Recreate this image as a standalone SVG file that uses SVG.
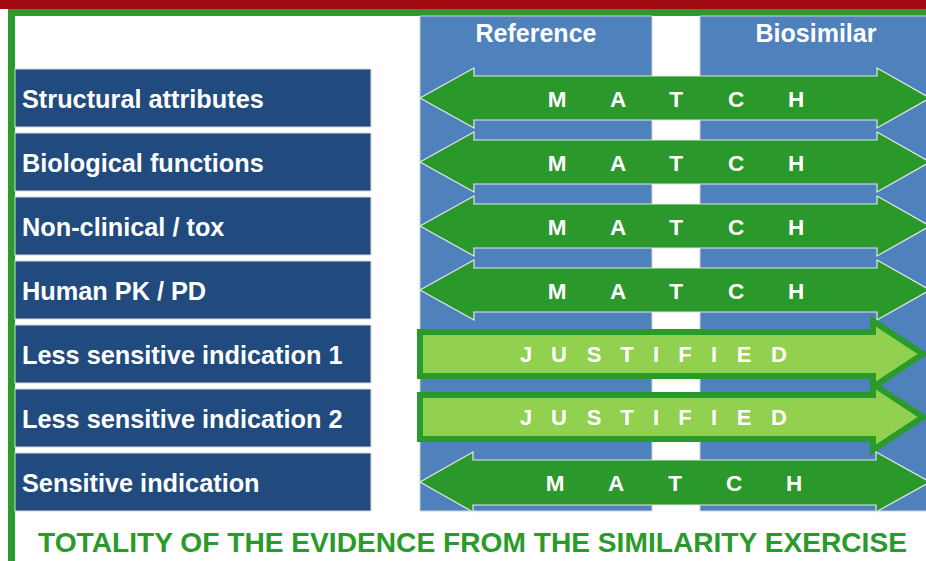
<svg xmlns="http://www.w3.org/2000/svg" width="926" height="561" viewBox="0 0 926 561">
<style>
text{font-family:"Liberation Sans",Arial,sans-serif;font-weight:bold;fill:#ffffff}
.col{fill:#4f81bd;stroke:#d0d0d0;stroke-width:1}
.lbl{fill:#214a7e;stroke:#d8d8d8;stroke-width:1}
.lt{font-size:25.3px}
.hd{font-size:25px}
.match{fill:#2a982a;stroke:#e6e6e6;stroke-width:1.2}
.just{fill:#92d050;stroke:#2a9a2a;stroke-width:6;stroke-miterlimit:10}
.ml{font-size:22.5px;text-anchor:middle}
.jl{font-size:22px;text-anchor:middle}
.foot{font-size:28px;fill:#2a9a2a}
</style>
<rect x="0" y="0" width="926" height="9" fill="#a00a10"/>
<g id="frame">
<rect x="8" y="9" width="918" height="7" fill="#2a9a2a"/>
<rect x="8" y="9" width="7" height="552" fill="#2a9a2a"/>
</g>
<g id="col-reference">
<rect class="col" x="420" y="16" width="232" height="495"/>
<text class="hd" x="536" y="42" text-anchor="middle">Reference</text>
</g>
<g id="col-biosimilar">
<rect class="col" x="700" y="16" width="240" height="495"/>
<text class="hd" x="816" y="42" text-anchor="middle">Biosimilar</text>
</g>
<g id="label-1"><rect class="lbl" x="15" y="69" width="356" height="58"/><text class="lt" x="22" y="107.5">Structural attributes</text></g>
<g id="label-2"><rect class="lbl" x="15" y="133" width="356" height="58"/><text class="lt" x="22" y="171.5">Biological functions</text></g>
<g id="label-3"><rect class="lbl" x="15" y="197" width="356" height="58"/><text class="lt" x="22" y="235.5">Non-clinical / tox</text></g>
<g id="label-4"><rect class="lbl" x="15" y="261" width="356" height="58"/><text class="lt" x="22" y="299.5">Human PK / PD</text></g>
<g id="label-5"><rect class="lbl" x="15" y="325" width="356" height="58"/><text class="lt" x="22" y="363.5">Less sensitive indication 1</text></g>
<g id="label-6"><rect class="lbl" x="15" y="389" width="356" height="58"/><text class="lt" x="22" y="427.5">Less sensitive indication 2</text></g>
<g id="label-7"><rect class="lbl" x="15" y="453" width="356" height="58"/><text class="lt" x="22" y="491.5">Sensitive indication</text></g>
<g id="connectors">
<g id="match-1"><path class="match" d="M420,98 L474,68 L474,76 L877,76 L877,68 L930,98 L877,128 L877,120 L474,120 L474,128 Z"/><text class="ml" x="557 618 676 736 796" y="107">MATCH</text></g>
<g id="match-2"><path class="match" d="M420,162 L474,132 L474,140 L877,140 L877,132 L930,162 L877,192 L877,184 L474,184 L474,192 Z"/><text class="ml" x="557 618 676 736 796" y="171">MATCH</text></g>
<g id="match-3"><path class="match" d="M420,226 L474,196 L474,204 L877,204 L877,196 L930,226 L877,256 L877,248 L474,248 L474,256 Z"/><text class="ml" x="557 618 676 736 796" y="235">MATCH</text></g>
<g id="match-4"><path class="match" d="M420,290 L474,260 L474,268 L877,268 L877,260 L930,290 L877,320 L877,312 L474,312 L474,320 Z"/><text class="ml" x="557 618 676 736 796" y="299">MATCH</text></g>
<g id="justified-1"><path class="just" d="M420,332 L873,332 L873,321 L923,354 L873,387 L873,376 L420,376 Z"/><text class="jl" x="526 559 594 627 656 685 714 744 779" y="362">JUSTIFIED</text></g>
<g id="justified-2"><path class="just" d="M420,395 L873,395 L873,384 L923,417 L873,450 L873,439 L420,439 Z"/><text class="jl" x="526 559 594 627 656 685 714 744 779" y="425">JUSTIFIED</text></g>
<g id="match-7"><path class="match" d="M420,482 L473,452 L473,460 L876,460 L876,452 L930,482 L876,512 L876,505 L473,505 L473,512 Z"/><text class="ml" x="555 616 675 734 794" y="491">MATCH</text></g>
</g>
<text class="foot" x="38" y="552" textLength="869" lengthAdjust="spacingAndGlyphs">TOTALITY OF THE EVIDENCE FROM THE SIMILARITY EXERCISE</text>
</svg>
